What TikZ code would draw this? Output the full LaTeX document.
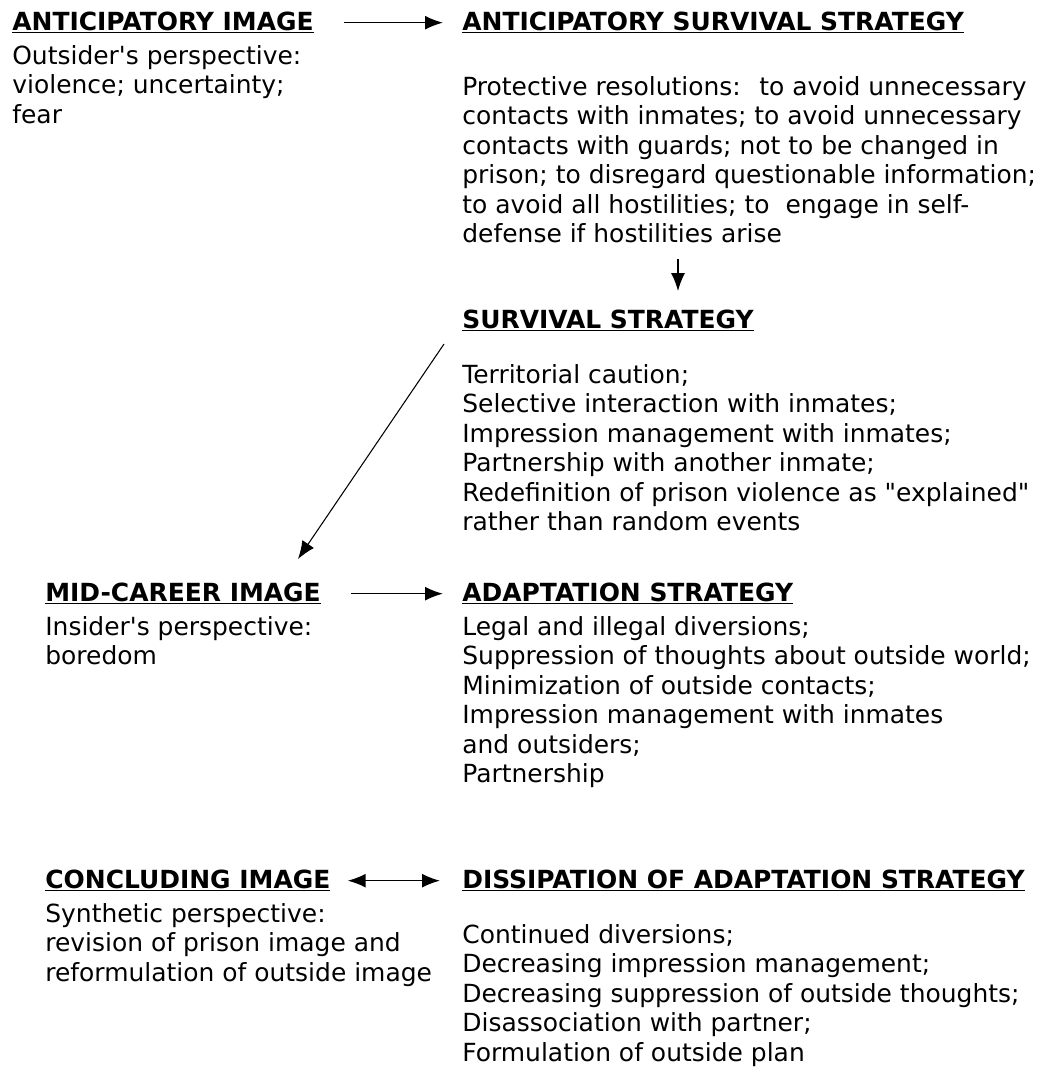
\documentclass[tikz,border=0pt]{standalone}
\usepackage{fontspec}
\setmainfont{DejaVu Sans}[Ligatures=TeXOff]
\usetikzlibrary{arrows.meta}

\begin{document}
\begin{tikzpicture}[x=0.2mm, y=-0.2mm, >={Latex[length=3.6mm, width=2.8mm]},
  heading/.style={anchor=base west, inner sep=0pt, font=\fontsize{14.2}{16.8}\selectfont\bfseries},
  body/.style={anchor=north west, inner sep=0pt, align=left, font=\fontsize{14.2}{16.8}\selectfont},
  link/.style={line width=0.9pt, ->}]
\useasboundingbox (0,0) rectangle (1044,1072);

% Images (left column)
\node[heading] (antimg) at (12,30) {\underline{ANTICIPATORY IMAGE}};
\node[body] (antimgtxt) at (12,45) {Outsider's perspective:\\violence; uncertainty;\\fear};
\node[heading] (midimg) at (45,601) {\underline{MID-CAREER IMAGE}};
\node[body] (midtxt) at (45,616) {Insider's perspective:\\boredom};
\node[heading] (concimg) at (45,888) {\underline{CONCLUDING IMAGE}};
\node[body] (conctxt) at (45,903) {Synthetic perspective:\\revision of prison image and\\reformulation of outside image};

% Strategies (right column)
\node[heading] (antstrat) at (462,30) {\underline{ANTICIPATORY SURVIVAL STRATEGY}};
\node[body] (antstrattxt) at (462,76) {Protective resolutions: \ to avoid unnecessary\\contacts with inmates; to avoid unnecessary\\contacts with guards; not to be changed in\\prison; to disregard questionable information;\\to avoid all hostilities; to \ engage in self-\\defense if hostilities arise};
\node[heading] (survstrat) at (462,328) {\underline{SURVIVAL STRATEGY}};
\node[body] (survtxt) at (462,364) {Territorial caution;\\Selective interaction with inmates;\\Impression management with inmates;\\Partnership with another inmate;\\Redefinition of prison violence as "explained"\\rather than random events};
\node[heading] (adapt) at (462,601) {\underline{ADAPTATION STRATEGY}};
\node[body] (adapttxt) at (462,616) {Legal and illegal diversions;\\Suppression of thoughts about outside world;\\Minimization of outside contacts;\\Impression management with inmates\\and outsiders;\\Partnership};
\node[heading] (dissip) at (462,888) {\underline{DISSIPATION OF ADAPTATION STRATEGY}};
\node[body] (dissiptxt) at (462,924) {Continued diversions;\\Decreasing impression management;\\Decreasing suppression of outside thoughts;\\Disassociation with partner;\\Formulation of outside plan};

% Connectors
\coordinate (downtop) at (678,259);
\coordinate (diagtop) at (444,344);
\coordinate (diagend) at (298,559);
\draw[link, shorten <=6mm, shorten >=3.8mm] (antimg.east) -- (antimg.east -| antstrat.west);
\draw[link, shorten >=3.6mm] (downtop) -- (downtop |- survstrat.north);
\draw[link, line width=0.6pt] (diagtop) -- (diagend);
\draw[link, shorten <=6mm, shorten >=3.8mm] (midimg.east) -- (midimg.east -| adapt.west);
\draw[link, <->, shorten <=3.4mm, shorten >=4.4mm] (concimg.east) -- (concimg.east -| dissip.west);
\end{tikzpicture}
\end{document}
